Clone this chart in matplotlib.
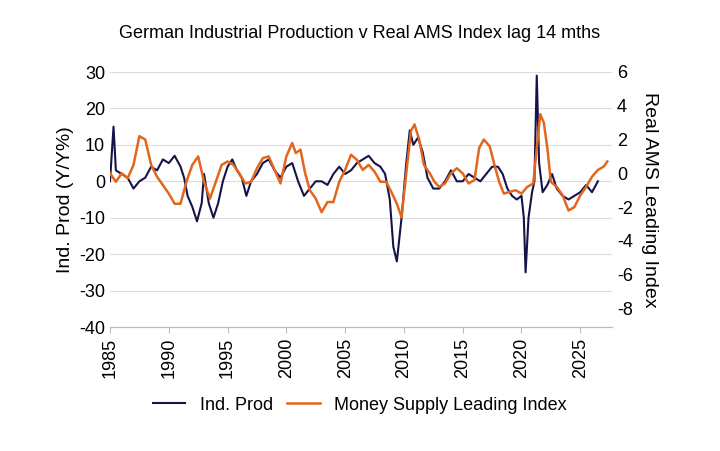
import matplotlib
matplotlib.use("Agg")
import matplotlib.pyplot as plt

plt.rcParams['font.family'] = ['Liberation Sans', 'DejaVu Sans']
plt.rcParams['axes.unicode_minus'] = False

ip_t = [1985.0,1985.3,1985.5,1986,1986.5,1987,1987.5,1988,1988.5,1989,1989.5,1990,1990.5,1991,1991.3,1991.6,1992,1992.4,1992.8,1993,1993.4,1993.8,1994.2,1994.6,1995,1995.4,1995.8,1996.2,1996.6,1997,1997.5,1998,1998.5,1999,1999.5,2000,2000.5,2001,2001.5,2002,2002.5,2003,2003.5,2004,2004.5,2005,2005.5,2006,2006.5,2007,2007.5,2008,2008.4,2008.8,2009.1,2009.4,2009.8,2010.2,2010.5,2010.8,2011.2,2011.6,2012,2012.5,2013,2013.5,2014,2014.5,2015,2015.5,2016,2016.5,2017,2017.5,2018,2018.4,2018.8,2019.2,2019.6,2020.0,2020.2,2020.35,2020.6,2020.9,2021.1,2021.3,2021.5,2021.8,2022.2,2022.6,2023,2023.5,2024,2024.5,2025,2025.5,2026,2026.5]
ip_v = [0,15,3,2,1,-2,0,1,4,3,6,5,7,4,1,-4,-7,-11,-6,2,-6,-10,-6,0,4,6,3,1,-4,0,2,5,6,3,1,4,5,0,-4,-2,0,0,-1,2,4,2,3,5,6,7,5,4,2,-5,-18,-22,-10,5,14,10,12,8,1,-2,-2,0,3,0,0,2,1,0,2,4,4,2,-2,-4,-5,-4,-10,-25,-10,-3,0,29,5,-3,-1,2,-2,-4,-5,-4,-3,-1,-3,0]

ams_t = [1985,1985.5,1986,1986.5,1987,1987.5,1988,1988.5,1989,1989.5,1990,1990.5,1991,1991.5,1992,1992.5,1993,1993.5,1994,1994.5,1995,1995.5,1996,1996.5,1997,1997.5,1998,1998.5,1999,1999.5,2000,2000.5,2000.8,2001.2,2001.6,2002,2002.5,2003,2003.5,2004,2004.5,2005,2005.5,2006,2006.5,2007,2007.5,2008,2008.5,2009,2009.4,2009.8,2010.2,2010.6,2010.9,2011.3,2011.7,2012.2,2012.6,2013,2013.5,2014,2014.5,2015,2015.5,2016,2016.4,2016.8,2017.3,2017.7,2018.1,2018.5,2019,2019.5,2020,2020.5,2021,2021.3,2021.6,2021.9,2022.2,2022.5,2023,2023.5,2024,2024.5,2025,2025.5,2026,2026.5,2027,2027.3]
ams_v = [0,-0.5,0,-0.3,0.5,2.2,2.0,0.5,-0.2,-0.7,-1.2,-1.8,-1.8,-0.5,0.5,1.0,-0.5,-1.5,-0.5,0.5,0.7,0.5,0.0,-0.6,-0.5,0.3,0.9,1.0,0.2,-0.6,1.0,1.8,1.2,1.4,0,-1.0,-1.5,-2.3,-1.7,-1.7,-0.5,0.2,1.1,0.8,0.2,0.5,0.1,-0.5,-0.5,-1.2,-1.8,-2.6,0,2.5,2.9,2.0,0.5,0,-0.5,-0.8,-0.6,0,0.3,0.0,-0.6,-0.4,1.5,2.0,1.6,0.5,-0.5,-1.2,-1.1,-1.0,-1.2,-0.8,-0.6,1.5,3.5,3.0,1.5,-0.5,-0.8,-1.3,-2.2,-2.0,-1.3,-0.8,-0.2,0.2,0.4,0.7]

fig = plt.figure(figsize=(7.2, 4.51), dpi=100)
ax = fig.add_axes([110/720, 1-327/451, (612-110)/720, (327-72)/451])
ax2 = ax.twinx()

l1, = ax.plot(ip_t, ip_v, color='#14144a', lw=1.5, label='Ind. Prod')
l2, = ax2.plot(ams_t, ams_v, color='#e2661e', lw=1.8, label='Money Supply Leading Index')

ax.set_xlim(1985, 2027.7)
ax.set_ylim(-40, 30)
ax2.set_ylim(-9.1, 6.0)
ax.set_yticks(range(-40, 31, 10))
ax2.set_yticks(range(-8, 7, 2))
ax.set_xticks(range(1985, 2026, 5))
ax.set_xticklabels([str(y) for y in range(1985, 2026, 5)], rotation=90)
ax.grid(axis='y', color='#dddddd', lw=0.8)
ax.set_axisbelow(True)
for a in (ax, ax2):
    for s in ('top', 'left', 'right'):
        a.spines[s].set_visible(False)
    a.spines['bottom'].set_color('#bbbbbb')
    a.tick_params(labelsize=13, length=0, colors='black')
ax.tick_params(axis='x', length=4, color='#bbbbbb')
ax.set_ylabel('Ind. Prod (Y/Y%)', fontsize=14)
ax2.set_ylabel('Real AMS Leading Index', fontsize=14, rotation=-90, labelpad=18)
fig.text(0.5, 1-33/451, 'German Industrial Production v Real AMS Index lag 14 mths',
         ha='center', va='center', fontsize=13)
fig.legend([l1, l2], ['Ind. Prod', 'Money Supply Leading Index'], loc='center',
           bbox_to_anchor=(0.5, 1-405/451), ncol=2, frameon=False, fontsize=13,
           handlelength=1.8, columnspacing=0.8)
fig.savefig('out.png', dpi=100)
